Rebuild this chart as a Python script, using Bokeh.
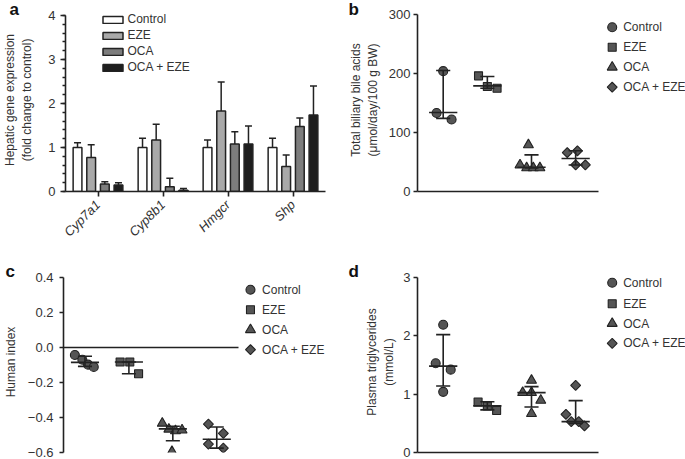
import math
from bokeh.plotting import figure
from bokeh.models import (Range1d, FactorRange, ColumnDataSource, Whisker, TeeHead, Legend,
                          LegendItem, SingleIntervalTicker, FixedTicker,
                          CustomJSTickFormatter)
from bokeh.core.properties import value
from bokeh.transform import dodge
from bokeh.layouts import row, column
from bokeh.embed import file_html
from bokeh.resources import INLINE

# ---------------- data ----------------
groups = ["Control", "EZE", "OCA", "OCA + EZE"]

# panel a: hepatic gene expression (bar = mean, whisker = upper error)
genes = ["Cyp7a1", "Cyp8b1", "Hmgcr", "Shp"]
a_control = [1.00, 1.00, 1.00, 1.00]
a_control_err = [1.11, 1.21, 1.17, 1.21]
a_eze = [0.77, 1.17, 1.83, 0.57]
a_eze_err = [1.06, 1.53, 2.49, 0.83]
a_oca = [0.17, 0.11, 1.08, 1.48]
a_oca_err = [0.22, 0.30, 1.36, 1.67]
a_combo = [0.15, 0.03, 1.08, 1.74]
a_combo_err = [0.20, 0.07, 1.49, 2.40]

# panel b: total biliary bile acids
b_control = [204, 133, 122]
b_eze = [196, 178, 175]
b_oca = [79, 45, 40, 40, 40]
b_combo = [66, 69, 45, 45]
b_mid = [134, 179, 41, 56]
b_low = [124, 175, 40, 45]
b_high = [205, 195, 62, 69]

# panel c: human index
c_control = [-0.043, -0.070, -0.098, -0.111]
c_eze = [-0.083, -0.083, -0.150]
c_oca = [-0.433, -0.467, -0.476, -0.472, -0.595]
c_combo = [-0.438, -0.491, -0.552, -0.575]
c_mid = [-0.085, -0.083, -0.465, -0.524]
c_low = [-0.108, -0.150, -0.533, -0.575]
c_high = [-0.050, -0.083, -0.450, -0.454]

# panel d: plasma triglycerides
d_control = [2.19, 1.53, 1.42, 1.04]
d_eze = [0.865, 0.80, 0.72]
d_oca = [1.236, 1.026, 1.026, 0.894, 0.667]
d_combo = [1.15, 0.655, 0.53, 0.53, 0.455]
d_mid = [1.48, 0.80, 1.026, 0.53]
d_low = [1.14, 0.73, 0.78, 0.50]
d_high = [2.02, 0.87, 1.13, 0.89]

# ---------------- layout / style constants ----------------
# horizontal scatter of points within a group (layout, not data)
b_jit = [[0.0, -0.15, 0.19], [-0.2, 0.0, 0.22], [-0.07, -0.26, -0.11, 0.04, 0.19], [-0.19, 0.04, 0.0, 0.22]]
c_jit = [[-0.23, -0.06, 0.07, 0.2], [-0.2, 0.02, 0.22], [-0.24, -0.09, 0.06, 0.21, -0.02], [-0.19, 0.15, -0.19, 0.15]]
d_jit = [[0.0, -0.17, 0.17, 0.0], [-0.21, 0.0, 0.21], [0.0, -0.2, 0.0, 0.21, 0.0], [0.0, -0.22, -0.1, 0.07, 0.2]]

FONT = "Liberation Sans"
INK = "#222222"
TXT = "#333333"
bar_colors = ["#ffffff", "#a9a9a9", "#7d7d7d", "#1e1e1e"]
mk_fill = "#555555"
markers = ["circle", "square", "triangle", "square"]
mk_size = [9, 8, 10, 7]
mk_angle = [0, 0, 0, math.pi / 4]

# frame geometry: every frame in a row shares its top edge
TOP_FRAME = 8        # px from figure top, top row (axis tops at 15 / 14)
BOT_FRAME = 22       # px from figure top, bottom row (axis tops at 28)
# x extents in group units: (frame start, axis end, frame end); px per group unit
BD_X = (0.418, 4.518, 6.488)
BD_PPU = 44.15
C_X = (0.511, 4.497, 6.817)
C_PPU = 44.4
# key layout: marker x / text x (px from frame left), row centres (px below axis top)
LEG_B = (194.7, 205.7, [12.7, 32.7, 52.7, 72.7])
LEG_C = (189.0, 200.7, [12.2, 32.2, 52.2, 72.2])
LEG_D = (194.7, 205.7, [5.3, 26.2, 46.0, 65.9])


def base_fig(w, h, xr, yr, left, right, top, bottom):
    p = figure(width=w, height=h, x_range=xr, y_range=yr, output_backend="svg",
               toolbar_location=None, min_border_left=left, min_border_right=right,
               min_border_top=top, min_border_bottom=bottom)
    p.outline_line_color = None
    p.xgrid.visible = False
    p.ygrid.visible = False
    return p


def style_axis(ax, tick_out=4, standoff=3):
    ax.axis_line_color = INK
    ax.axis_line_width = 1.6
    ax.major_tick_line_color = INK
    ax.major_tick_line_width = 1.6
    ax.major_tick_out = tick_out
    ax.major_tick_in = 0
    ax.minor_tick_line_color = None
    ax.major_label_text_font = FONT
    ax.major_label_text_font_size = "13px"
    ax.major_label_text_color = TXT
    ax.major_label_standoff = standoff


def bare_axis(ax, bounds):
    ax.ticker = FixedTicker(ticks=[])
    ax.bounds = bounds
    ax.axis_line_color = INK
    ax.axis_line_width = 1.6
    ax.major_tick_out = 0
    ax.major_tick_in = 0
    ax.minor_tick_out = 0
    ax.minor_tick_in = 0
    ax.major_label_text_font_size = "0px"
    ax.major_label_standoff = 0


def ylabel(ax, text, standoff):
    ax.axis_label = text
    ax.axis_label_text_font = FONT
    ax.axis_label_text_font_size = "12px"
    ax.axis_label_text_font_style = "normal"
    ax.axis_label_text_color = TXT
    ax.axis_label_standoff = standoff


def letter(p, text, offset, standoff):
    p.title.text = text
    p.title.align = "left"
    p.title.offset = offset
    p.title.standoff = standoff
    p.title.vertical_align = "bottom"
    p.title.text_font = FONT
    p.title.text_font_size = "17px"
    p.title.text_font_style = "bold"
    p.title.text_color = "#111111"


# ---------------- panel a  (axis 0..4 spans y 15..191) ----------------
A_PPU_Y = 176 / 4
pa = base_fig(340, 249, FactorRange(factors=genes, range_padding=0),
              Range1d(0, 4 + (15 - TOP_FRAME) / A_PPU_Y), 58, 15, TOP_FRAME, 58)
style_axis(pa.yaxis[0], tick_out=5, standoff=5)
pa.yaxis[0].bounds = (0, 4)
pa.yaxis[0].ticker = SingleIntervalTicker(interval=1, num_minor_ticks=5)
pa.yaxis[0].minor_tick_line_color = INK
pa.yaxis[0].minor_tick_line_width = 1.3
pa.yaxis[0].minor_tick_out = 3
pa.yaxis[0].minor_tick_in = 0
style_axis(pa.xaxis[0], tick_out=5, standoff=6)
pa.xaxis[0].major_label_orientation = math.pi / 4
pa.xaxis[0].major_label_text_font_style = "italic"
ylabel(pa.yaxis[0], "Hepatic gene expression\n(fold change to control)", 11)
letter(pa, "a", -56, -21)

a_vals = [a_control, a_eze, a_oca, a_combo]
a_errs = [a_control_err, a_eze_err, a_oca_err, a_combo_err]
offsets = [-0.315, -0.105, 0.105, 0.315]
a_items = []
for i, g in enumerate(groups):
    src = ColumnDataSource(dict(gene=genes, val=a_vals[i], hi=a_errs[i]))
    xs = dodge("gene", offsets[i], range=pa.x_range)
    pa.add_layout(Whisker(source=src, base=xs, upper="hi", lower="val", dimension="height",
                          line_color=INK, line_width=1.5, lower_head=None,
                          upper_head=TeeHead(size=7, line_color=INK, line_width=1.5),
                          level="glyph"))
    r = pa.vbar(x=xs, top="val", width=0.135, source=src, fill_color=bar_colors[i],
                line_color=INK, line_width=1.5)
    a_items.append(LegendItem(label=g, renderers=[r]))
pa.add_layout(Legend(items=a_items, location=(34.5, 117), orientation="vertical",
                     border_line_color=None, background_fill_alpha=0, padding=0, margin=0,
                     spacing=2, glyph_width=25, glyph_height=9, label_standoff=3,
                     label_text_font=FONT, label_text_font_size="12px",
                     label_text_color=TXT, label_height=12, label_width=10,
                     label_text_baseline="middle"))


# ---------------- scatter panels ----------------
def scatter_panel(p, series, jit, mid, low, high, xr, ppu, y_top, ppu_y, leg):
    for i, g in enumerate(groups):
        xs = [i + 1 + j for j in jit[i]]
        src = ColumnDataSource(dict(x=xs, y=series[i]))
        p.scatter("x", "y", source=src, marker=markers[i], size=mk_size[i],
                  angle=mk_angle[i], fill_color=mk_fill, line_color=INK, line_width=1.1)
    gx = [i + 1 for i in range(len(groups))]
    ls = ColumnDataSource(dict(
        gx=gx, mid=mid, low=low, high=high,
        m0=[x - 0.32 for x in gx], m1=[x + 0.32 for x in gx],
        c0=[x - 0.16 for x in gx], c1=[x + 0.16 for x in gx]))
    kw = dict(source=ls, line_color=INK, line_width=1.6)
    p.segment(x0="gx", y0="low", x1="gx", y1="high", **kw)
    p.segment(x0="m0", y0="mid", x1="m1", y1="mid", **kw)
    p.segment(x0="c0", y0="low", x1="c1", y1="low", **kw)
    p.segment(x0="c0", y0="high", x1="c1", y1="high", **kw)
    # key drawn in the frame to the right of the data
    mx, tx, rows = leg
    lx = xr[0] + mx / ppu
    ltx = xr[0] + tx / ppu
    ly = [y_top - r / ppu_y for r in rows]
    for i, g in enumerate(groups):
        p.scatter([lx], [ly[i]], marker=markers[i], size=mk_size[i], angle=mk_angle[i],
                  fill_color=mk_fill, line_color=INK, line_width=1.1)
    p.text(x=[ltx] * len(groups), y=ly, text=groups, text_font=value(FONT),
           text_font_size="12px", text_color=TXT, text_align="left", text_baseline="middle")


# panel b  (axis 0..300 spans y 14..191)
B_PPU_Y = 177 / 300
pb = base_fig(345, 249, Range1d(BD_X[0], BD_X[2]),
              Range1d(0, 300 + (14 - TOP_FRAME) / B_PPU_Y), 77, 0, TOP_FRAME, 58)
style_axis(pb.yaxis[0], standoff=3)
pb.yaxis[0].ticker = FixedTicker(ticks=[0, 100, 200, 300])
pb.yaxis[0].bounds = (0, 300)
bare_axis(pb.xaxis[0], (BD_X[0], BD_X[1]))
ylabel(pb.yaxis[0], "Total biliary bile acids\n(μmol/day/100 g BW)", 6)
letter(pb, "b", -69, -21)
scatter_panel(pb, [b_control, b_eze, b_oca, b_combo], b_jit, b_mid, b_low, b_high,
              BD_X, BD_PPU, 300, B_PPU_Y, LEG_B)

# panel c  (axis 0.4..-0.6 spans y 28..203 of the figure)
C_PPU_Y = 175 / 1.0
pc = base_fig(340, 210, Range1d(C_X[0], C_X[2]),
              Range1d(-0.6, 0.4 + (28 - BOT_FRAME) / C_PPU_Y), 60, 0, BOT_FRAME, 7)
style_axis(pc.yaxis[0], standoff=6)
pc.yaxis[0].ticker = FixedTicker(ticks=[-0.6, -0.4, -0.2, 0.0, 0.2, 0.4])
pc.yaxis[0].bounds = (-0.6, 0.4)
pc.yaxis[0].formatter = CustomJSTickFormatter(
    code="return (tick < -1e-9 ? '\u2212' : '') + Math.abs(tick).toFixed(1);")
bare_axis(pc.xaxis[0], (C_X[0], C_X[1]))
pc.xaxis[0].fixed_location = 0
ylabel(pc.yaxis[0], "Human index", 7)
letter(pc, "c", -58, -19)
scatter_panel(pc, [c_control, c_eze, c_oca, c_combo], c_jit, c_mid, c_low, c_high,
              C_X, C_PPU, 0.4, C_PPU_Y, LEG_C)

# panel d  (axis 3..0 spans y 28..203 of the figure)
D_PPU_Y = 175 / 3
pd_ = base_fig(345, 210, Range1d(BD_X[0], BD_X[2]),
               Range1d(0, 3 + (28 - BOT_FRAME) / D_PPU_Y), 77, 0, BOT_FRAME, 7)
style_axis(pd_.yaxis[0], standoff=3)
pd_.yaxis[0].ticker = FixedTicker(ticks=[0, 1, 2, 3])
pd_.yaxis[0].bounds = (0, 3)
bare_axis(pd_.xaxis[0], (BD_X[0], BD_X[1]))
ylabel(pd_.yaxis[0], "Plasma triglycerides\n(mmol/L)", 4)
letter(pd_, "d", -69, -19)
scatter_panel(pd_, [d_control, d_eze, d_oca, d_combo], d_jit, d_mid, d_low, d_high,
              BD_X, BD_PPU, 3, D_PPU_Y, LEG_D)

layout = column(row(pa, pb, spacing=0), row(pc, pd_, spacing=0), spacing=0)
open("out.html", "w").write(file_html(layout, INLINE))
